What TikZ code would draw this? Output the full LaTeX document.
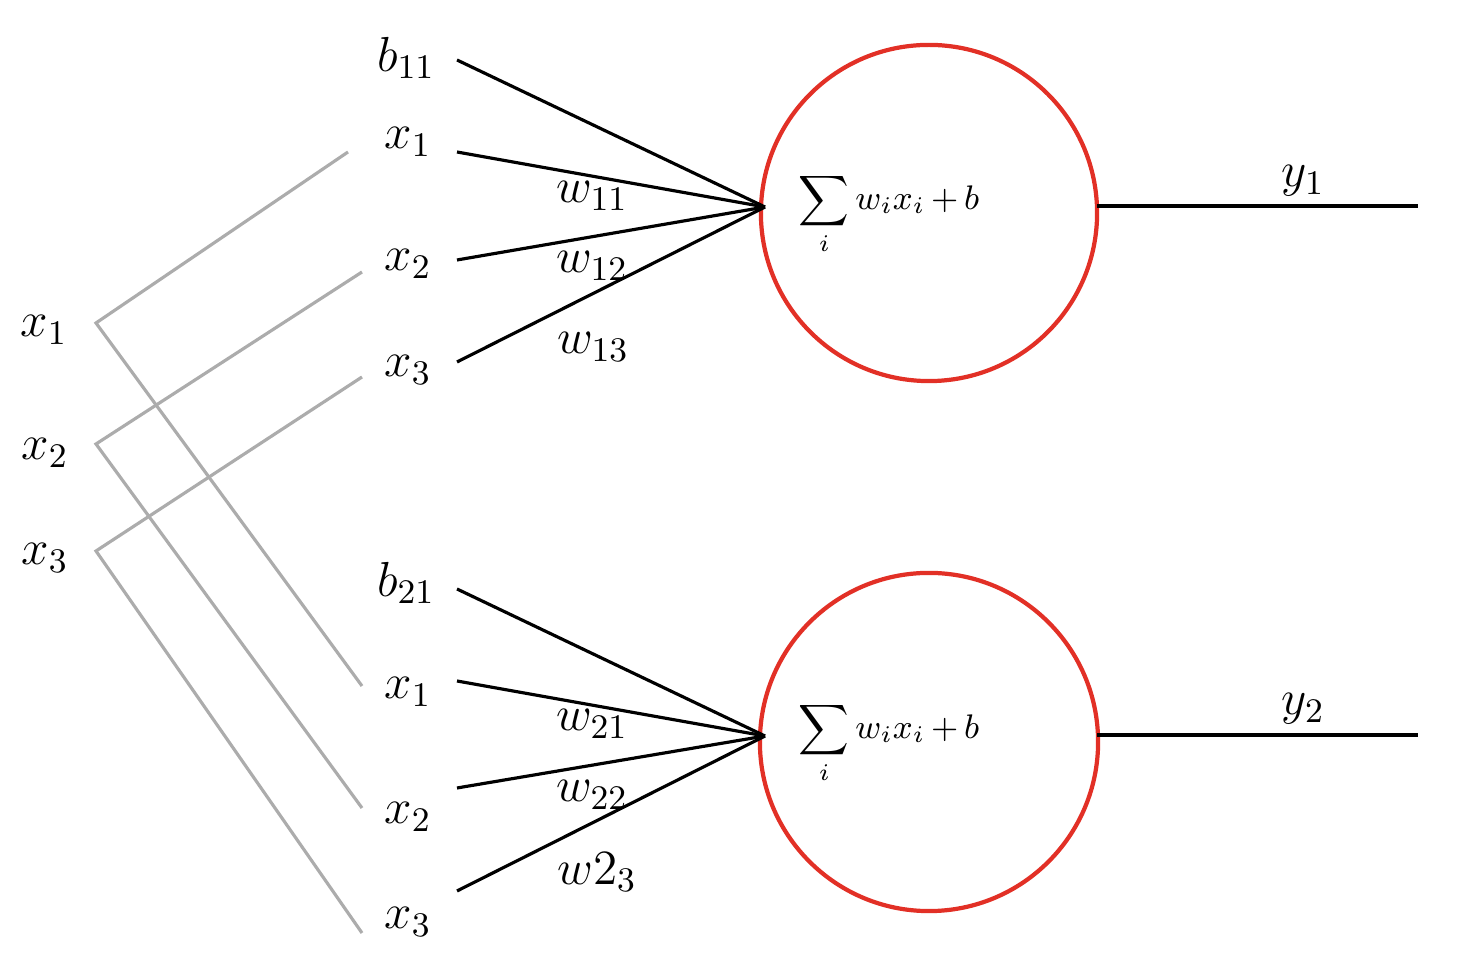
\RequirePackage{fix-cm}
\documentclass[tikz,border=0pt]{standalone}
\usepackage{amsmath}
\definecolor{neured}{RGB}{226,48,38}
\definecolor{wiregray}{RGB}{172,172,172}
\begin{document}
\begin{tikzpicture}[x=0.01cm,y=-0.01cm,
  lbl/.style={inner sep=0pt,font=\fontsize{14}{17}\selectfont},
  blk/.style={draw=black,line width=0.9pt},
  gry/.style={draw=wiregray,line width=0.9pt},
  sumlbl/.style={inner sep=0pt,font=\fontsize{9.7}{12}\selectfont},
  neuron/.style={circle,draw=neured,line width=1.2pt,inner sep=0pt}]
\useasboundingbox (0,0) rectangle (1472,974);

% neurons
\node[neuron,minimum size=3.36cm] (n1) at (929,213) {};
\node[neuron,minimum size=3.38cm] (n2) at (929,742) {};
\node[sumlbl] (s1) at (889,214) {$\displaystyle\sum_i w_i x_i \mskip3mu{+}\mskip3mu b$};
\node[sumlbl] (s2) at (889,743) {$\displaystyle\sum_i w_i x_i \mskip3mu{+}\mskip3mu b$};

% convergence points
\coordinate (c1) at (765,207);
\coordinate (c2) at (765,736);

% top input endpoints
\coordinate (tb) at (457,60);
\coordinate (t1) at (457,152);
\coordinate (t2) at (457,260);
\coordinate (t3) at (457,362);
% bottom input endpoints
\coordinate (bb) at (457,589);
\coordinate (b1) at (457,681);
\coordinate (b2) at (457,788);
\coordinate (b3) at (457,891);

\draw[blk] (tb) -- (c1);
\draw[blk] (t1) -- (c1);
\draw[blk] (t2) -- (c1);
\draw[blk] (t3) -- (c1);
\draw[blk] (bb) -- (c2);
\draw[blk] (b1) -- (c2);
\draw[blk] (b2) -- (c2);
\draw[blk] (b3) -- (c2);

% outputs
\coordinate (o1s) at (1097,206);
\coordinate (o1e) at (1418,206);
\coordinate (o2s) at (1097,735);
\coordinate (o2e) at (1418,735);
\draw[blk] (o1s) -- (o1e);
\draw[blk] (o2s) -- (o2e);
\node[lbl] (y1) at (1303,181) {$y_1$};
\node[lbl] (y2) at (1303,709) {$y_2$};

% labels top
\node[lbl] (lb11) at (406,58) {$b_{11}$};
\node[lbl] (lt1) at (408,142) {$x_1$};
\node[lbl] (lt2) at (408,264) {$x_2$};
\node[lbl] (lt3) at (408,370) {$x_3$};
\node[lbl] (w11) at (592,196) {$w_{11}$};
\node[lbl] (w12) at (592,266) {$w_{12}$};
\node[lbl] (w13) at (593,347) {$w_{13}$};
% labels bottom
\node[lbl] (lb21) at (406,583) {$b_{21}$};
\node[lbl] (lb1) at (408,692) {$x_1$};
\node[lbl] (lb2) at (408,817) {$x_2$};
\node[lbl] (lb3) at (408,922) {$x_3$};
\node[lbl] (w21) at (592,724) {$w_{21}$};
\node[lbl] (w22) at (592,795) {$w_{22}$};
\node[lbl] (w23) at (597,872) {$w2_{3}$};

% left inputs
\node[lbl] (L1) at (44,330) {$x_1$};
\node[lbl] (L2) at (45,453) {$x_2$};
\node[lbl] (L3) at (45,558) {$x_3$};
\coordinate (v1) at (96,323);
\coordinate (v2) at (96,444);
\coordinate (v3) at (96,551);
\coordinate (g1a) at (348,152);
\coordinate (g1b) at (362,686);
\coordinate (g2a) at (362,272);
\coordinate (g2b) at (362,808);
\coordinate (g3a) at (362,377);
\coordinate (g3b) at (362,933);
\draw[gry] (g1a) -- (v1) -- (g1b);
\draw[gry] (g2a) -- (v2) -- (g2b);
\draw[gry] (g3a) -- (v3) -- (g3b);
\end{tikzpicture}
\end{document}
